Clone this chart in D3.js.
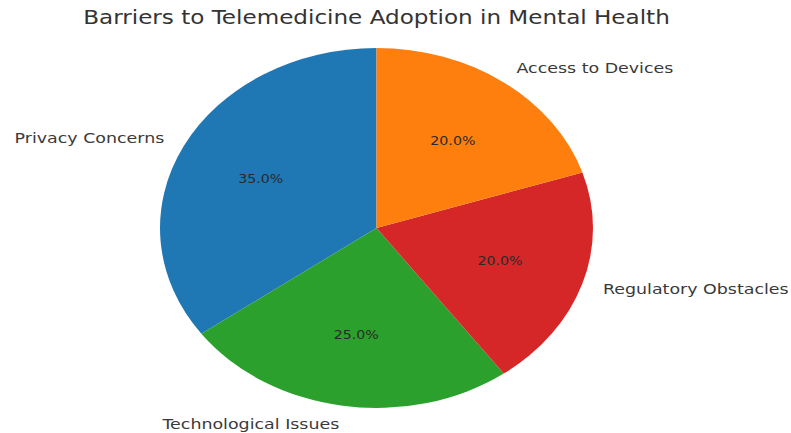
<!DOCTYPE html>
<html>
<head>
<meta charset="utf-8">
<script src="https://cdn.jsdelivr.net/npm/d3@7"></script>
<style>
  html, body { margin: 0; padding: 0; background: #fff; }
  text { font-family: "DejaVu Sans", sans-serif; }
</style>
</head>
<body>
<svg id="chart" width="791" height="433"></svg>
<script>
// Barrier categories, drawn counterclockwise from 12 o'clock
const categories = ["Privacy Concerns", "Technological Issues", "Regulatory Obstacles", "Access to Devices"];
const shares = [35, 25, 20, 20];
const colors = ["#1f77b4", "#2ca02c", "#d62728", "#ff7f0e"];
const title = "Barriers to Telemedicine Adoption in Mental Health";

const W = 791, H = 433;
const cx = 376.5, cy = 228;
const R = 180;            // vertical radius
const sx = 216.5 / 180;   // horizontal stretch of the whole figure
const pctDistance = 0.6, labelDistance = 1.1;

const svg = d3.select("#chart");
svg.append("rect").attr("width", W).attr("height", H).attr("fill", "#fff");

const g = svg.append("g").attr("transform", `translate(${cx},${cy}) scale(${sx},1)`);

const data = categories.map((c, i) => ({ name: c, value: shares[i], color: colors[i] }));

const pie = d3.pie().value(d => d.value).sort(null)
  .startAngle(0).endAngle(-2 * Math.PI);
const arcs = pie(data);

const arc = d3.arc().innerRadius(0).outerRadius(R);

g.selectAll("path.slice").data(arcs).join("path")
  .attr("class", "slice")
  .attr("d", arc)
  .attr("fill", d => d.data.color);

const mid = d => (d.startAngle + d.endAngle) / 2;

// category labels outside the pie
g.selectAll("text.label").data(arcs).join("text")
  .attr("class", "label")
  .attr("x", d => labelDistance * R * Math.sin(mid(d)))
  .attr("y", d => -labelDistance * R * Math.cos(mid(d)))
  .attr("text-anchor", d => Math.sin(mid(d)) > 0 ? "start" : "end")
  .attr("dominant-baseline", "central")
  .attr("font-size", 14.5)
  .attr("fill", "#3a3a3a")
  .text(d => d.data.name);

// percentage labels inside each slice
const total = d3.sum(shares);
g.selectAll("text.pct").data(arcs).join("text")
  .attr("class", "pct")
  .attr("x", d => pctDistance * R * Math.sin(mid(d)))
  .attr("y", d => -pctDistance * R * Math.cos(mid(d)))
  .attr("text-anchor", "middle")
  .attr("dominant-baseline", "central")
  .attr("font-size", 11.8)
  .attr("fill", "#2a2a2a")
  .text(d => (d.data.value / total * 100).toFixed(1) + "%");

// chart title
g.append("text")
  .attr("x", 0)
  .attr("y", 24 - cy)
  .attr("text-anchor", "middle")
  .attr("font-size", 19.2)
  .attr("fill", "#333")
  .text(title);
</script>
</body>
</html>
